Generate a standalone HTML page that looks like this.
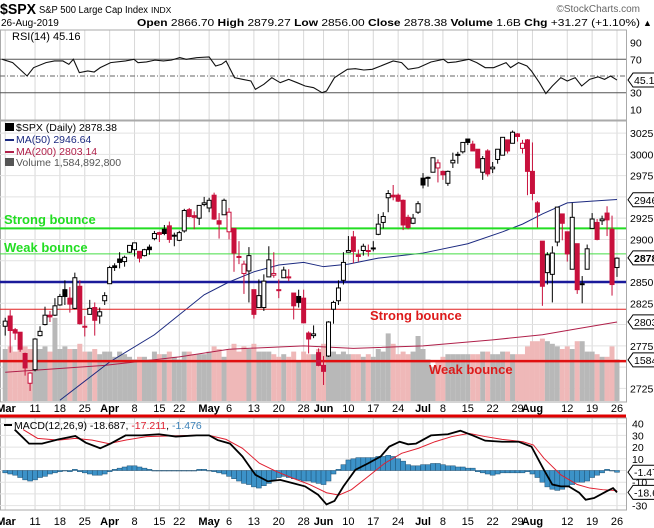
<!DOCTYPE html>
<html><head><meta charset="utf-8">
<style>
html,body{margin:0;padding:0;background:#fff;}
svg{display:block;font-family:"Liberation Sans",sans-serif;}
</style></head>
<body>
<svg id="chart" width="654" height="528" viewBox="0 0 654 528" xmlns="http://www.w3.org/2000/svg">
<rect x="0" y="0" width="654" height="528" fill="#fff"/>
<g>
<text x="0" y="14" font-size="15" font-weight="bold" fill="#000" textLength="36" lengthAdjust="spacingAndGlyphs">$SPX</text>
<text x="39" y="13" font-size="10" fill="#000" textLength="109" lengthAdjust="spacingAndGlyphs">S&amp;P 500 Large Cap Index</text>
<text x="151" y="13" font-size="8.5" fill="#000">INDX</text>
<text x="640" y="12" font-size="10" fill="#666" text-anchor="end">©StockCharts.com</text>
<text x="1" y="26" font-size="10" fill="#000">26-Aug-2019</text>
<text x="137" y="26" font-size="10.5" fill="#000" textLength="503" lengthAdjust="spacingAndGlyphs"><tspan font-weight="bold">Open</tspan> 2866.70 <tspan font-weight="bold">High</tspan> 2879.27 <tspan font-weight="bold">Low</tspan> 2856.00 <tspan font-weight="bold">Close</tspan> 2878.38 <tspan font-weight="bold">Volume</tspan> 1.6B <tspan font-weight="bold">Chg</tspan> +31.27 (+1.10%)</text>
<text x="643" y="26" font-size="9" fill="#000">▲</text>
</g>
<g id="grid"></g>
<g id="rsi"></g>
<g id="price"></g>
<g id="macd"></g>
</svg>
<script>
const opens=[2798,2810,2794,2791,2766,2731,2747,2787,2800,2811,2811,2823,2841,2831,2819,2845,2797,2812,2820,2810,2828,2848,2869,2877,2874,2885,2888,2886,2881,2891,2901,2908,2912,2916,2905,2899,2910,2935,2928,2925,2941,2937,2952,2922,2929,2909,2913,2880,2860,2863,2841,2820,2820,2856,2858,2841,2855,2856,2837,2833,2831,2790,2787,2767,2752,2763,2818,2828,2852,2885,2903,2882,2887,2887,2889,2906,2920,2949,2952,2952,2946,2926,2919,2932,2972,2973,2979,2984,2980,2966,2990,2999,3003,3018,3012,3006,2979,3004,2983,2994,2999,3017,3013,3024,3007,3017,2980,2943,2898,2861,2859,2897,2930,2909,2865,2895,2847,2865,2913,2920,2922,2931,2912,2867];
const highs=[2808,2817,2796,2791,2767,2744,2784,2798,2821,2816,2831,2836,2852,2844,2861,2852,2810,2829,2826,2820,2838,2869,2872,2885,2881,2893,2895,2886,2889,2894,2910,2909,2917,2921,2908,2910,2936,2937,2933,2940,2950,2949,2955,2931,2948,2937,2913,2898,2875,2891,2841,2853,2859,2892,2885,2853,2868,2865,2837,2841,2841,2792,2799,2772,2763,2804,2828,2852,2885,2904,2910,2888,2895,2894,2898,2930,2932,2958,2964,2954,2947,2929,2930,2945,2978,2974,2996,2994,2981,2981,3002,3003,3014,3018,3016,3006,2998,3006,2991,3005,3020,3017,3028,3025,3017,3018,3014,2945,2898,2885,2892,2938,2930,2909,2943,2895,2857,2894,2931,2924,2928,2939,2928,2879];
const lows=[2787,2767,2782,2768,2740,2722,2745,2786,2799,2803,2810,2822,2823,2814,2818,2800,2786,2812,2787,2801,2823,2848,2863,2866,2868,2884,2880,2873,2880,2882,2899,2897,2905,2896,2892,2898,2908,2926,2912,2917,2939,2932,2923,2901,2929,2900,2862,2871,2836,2826,2807,2820,2816,2856,2855,2831,2855,2851,2806,2820,2802,2766,2784,2751,2729,2762,2801,2823,2847,2885,2872,2874,2881,2880,2886,2905,2913,2932,2946,2944,2911,2912,2918,2930,2960,2962,2979,2967,2970,2963,2984,2989,3001,3011,3004,2984,2970,2974,2978,2989,2999,3001,3013,3015,3001,2952,2946,2914,2822,2847,2826,2892,2899,2874,2865,2836,2825,2865,2913,2899,2917,2904,2834,2856];
const closes=[2804,2793,2790,2771,2749,2743,2783,2792,2811,2809,2822,2833,2833,2824,2855,2801,2798,2819,2805,2815,2834,2867,2867,2873,2879,2893,2896,2878,2888,2888,2907,2906,2907,2900,2905,2908,2934,2927,2926,2940,2943,2946,2924,2918,2946,2932,2884,2879,2871,2881,2812,2834,2851,2876,2860,2840,2864,2856,2822,2826,2802,2783,2789,2752,2745,2803,2826,2843,2873,2887,2886,2880,2892,2887,2890,2918,2927,2954,2950,2945,2917,2914,2925,2942,2964,2973,2996,2990,2976,2980,2993,3000,3014,3014,3004,2984,2995,2977,2985,3006,3020,3004,3026,3021,3013,2980,2954,2932,2845,2882,2884,2938,2919,2883,2926,2841,2848,2889,2924,2900,2924,2923,2847,2878];
const volumes=[2.0,2.1,1.9,2.0,2.1,2.0,1.9,2.0,2.1,1.9,3.2,2.0,2.1,2.0,2.0,2.2,1.9,1.9,2.0,1.8,1.9,1.9,1.7,1.9,1.8,1.7,1.6,1.7,1.7,1.6,1.9,1.8,1.8,1.9,1.7,1.6,1.9,1.9,1.8,1.8,1.8,1.9,2.1,2.0,1.7,2.0,2.2,1.9,2.1,2.0,2.2,1.9,1.9,1.9,1.8,1.7,1.8,1.7,1.9,1.5,1.9,1.8,1.8,2.0,2.2,2.0,1.9,1.8,1.9,1.8,1.8,1.8,1.7,1.8,1.7,2.0,1.9,2.6,2.2,1.8,1.9,1.8,1.9,2.5,2.0,1.6,1.3,1.5,1.7,1.8,1.8,1.8,1.8,1.8,1.8,1.8,1.9,1.9,1.8,1.8,1.9,1.9,1.8,1.8,1.8,2.1,2.3,2.3,2.4,2.3,2.2,2.1,2.0,2.1,2.0,2.3,2.3,1.9,1.9,1.8,1.7,1.7,2.1,1.6];
const rsiDays=[-0.6,1.5,4.4,5.7,8.2,9.9,11.6,12.8,13.7,14.9,16.6,17.9,19.1,21.2,24.2,25.9,26.7,28.4,30.1,31.8,33.4,35.1,36.4,38.5,41,42.3,43.5,44.4,46.1,47.7,49.4,50.3,52,53.6,55.3,57,58.7,60.3,62,63.7,64.6,66.2,68.8,70.4,72.1,73.8,75.5,78,79.7,81,83.1,85.6,88.1,89,90.6,93.2,94.8,96.5,98.2,100.7,101.6,103.2,104.9,105.8,107.4,108.7,110,111.7,113,114.6,115.9,117.5,119.2,120.5,121.7,123];
const rsiVals=[70,66,50,60,66,68,68,64,70,54,56,54.8,60,66,68,70,66,66.8,69,68,69,72,70,72,72.8,62,64,68,48,46,44,34,40,48,42,46,42,38,36,30,32,48,58,58.8,57.2,58,62,68,66,58,60,66.8,70,66,66.8,70,66,60,60,66,60,66,62,56,42,29,38,48,44,48,38,46,49,46,50,45.16];
const macdDays=[1.9,4.8,7.4,10.7,14.1,16.2,19.1,21.2,24.2,27.5,30.9,34.3,38.5,41,42.7,45.2,47.7,50.3,52.8,55.3,57.8,60.3,62.9,64.6,66.2,68,70.4,73,75.5,77.2,79.3,81,82.6,85.6,89,91.5,94,96.5,99.9,103.2,105.8,108.3,110,111.7,113.3,115.4,116.7,118.4,120.9,122.2,123];
const macdVals=[35,23,23,26.6,29.5,23.8,19,23,30,30,31,29,30,30,26,23,12,-3.7,-9.3,-8,-10.8,-13.6,-20.7,-29,-26,-13.6,0.6,6.2,12,20.4,24.6,22.4,23,30,31,34,30,25.5,24.6,24.6,20.4,0.6,-12,-13.6,-13.6,-19,-25,-23.5,-17.8,-15,-18.7];
const signalDays=[3.6,6.5,10.7,14.1,17.5,20.8,24.2,28.4,32.6,37.6,41,44.4,47.7,51.1,54.5,57.8,61.2,64.6,67.1,69.6,73,76.3,79.7,83.1,86.4,89.8,93.2,96.5,99.9,104.1,106.2,108.3,111.7,115,117.5,120.1,123];
const signalVals=[35,27.5,26,27.5,26,23,26,29,29.5,30,30,26.6,19,6.2,-0.8,-6.5,-12,-19,-21,-16.4,-5,6.2,14.7,19,24.6,29,31.7,29,26.6,24.6,21.8,10.5,-3.7,-12,-15,-16.4,-17.2];
const histVals=[-2,-3,-4,-6,-8,-9,-8,-6,-5,-3,-2,-1,0,-1,1,-1,-2,-3,-4,-4,-3,-1,1,2,3,4,4,3,2,1,0,0,0,0,0,0,0,0,0,1,1,0,-1,-2,-3,-5,-7,-9,-11,-12,-14,-15,-13,-11,-8,-6,-5,-6,-7,-8,-9,-9,-10,-11,-12,-9,-3,1,5,9,10,11,11,11,11,12,12,13,12,10,8,5,4,4,5,5,6,6,5,4,4,3,3,2,2,-1,-2,-3,-4,-3,-2,-2,-2,-2,-2,-1,-3,-6,-10,-14,-16,-17,-16,-14,-12,-10,-10,-9,-6,-4,-2,1,0,-1.5];
const ma50Days=[11,21,30,40,45,50,55,60,64,69,75,84,93,100,104,108,113,118,123];
const ma50Vals=[2711,2756,2788,2835,2850,2862,2870,2873,2868,2871,2878,2884,2895,2909,2918,2930,2943,2945,2947];
const ma200Days=[0,20,35,45,60,70,84,98,108,115,123];
const ma200Vals=[2744,2752,2762,2771,2775,2772,2775,2782,2788,2795,2803];
const dateLabels=["Mar","11","18","25","Apr","8","15","22","May","6","13","20","28","Jun","10","17","24","Jul","8","15","22","29","Aug","12","19","26"];
const dateIdx=[0,6,11,16,21,26,31,35,41,45,50,55,60,64,69,74,79,84,88,93,98,103,106,113,118,123];
const priceTicks=[3025,3000,2975,2925,2900,2850,2825,2775,2725];
const rsiTicks=[90,70,30,10];
const macdTicks=[40,30,20,10,-10,-30];

const NS="http://www.w3.org/2000/svg";
const PR=626;
const X=i=>5.2+i*4.974;
const PY=p=>282-(p-2850)*0.851;
const RY=v=>76-(v-50)*0.835;
const MY=v=>470.5-v*1.17;
const VY=v=>401-v*26;
function mk(tag,attrs,parent,txt){const e=document.createElementNS(NS,tag);for(const k in attrs)e.setAttribute(k,attrs[k]);if(txt!==undefined)e.textContent=txt;parent.appendChild(e);return e;}
const grid=document.getElementById('grid');
const rsiG=document.getElementById('rsi');
const priceG=document.getElementById('price');
const macdG=document.getElementById('macd');

const panels=[[30,120],[121,402],[418,510]];
panels.forEach(([t,b])=>{
  dateIdx.forEach(i=>{const l=mk('line',{x1:X(i),x2:X(i),y1:t,y2:b,stroke:'#d8d8d8','stroke-width':1},grid);
  
  });
  const r=mk('rect',{x:0.5,y:t,width:PR,height:b-t,fill:'none',stroke:'#aaa','stroke-width':1},grid);
  
  
});
priceTicks.concat([2950,2875,2800,2750]).forEach(p=>{const l=mk('line',{x1:0,x2:PR,y1:PY(p),y2:PY(p),stroke:'#e2e2e2','stroke-width':1},grid);

});
[0,20,10,-10,-20,-30,30,40].forEach(v=>{const l=mk('line',{x1:0,x2:PR,y1:MY(v),y2:MY(v),stroke:'#e2e2e2','stroke-width':1},grid);

});

[408,521].forEach(y=>{dateLabels.forEach((s,k)=>{const bold=isNaN(+s);
 let x=X(dateIdx[k]); if(k===0)x=6;
 const t=mk('text',{x:x,y:y+4,'font-size':11,'font-weight':bold?'bold':'normal','text-anchor':'middle',fill:'#000'},grid,s);
 
 });});

[[70,'#555',''],[30,'#555',''],[50,'#666','5,2,1,2']].forEach(([v,c,d])=>{const l=mk('line',{x1:0,x2:PR,y1:RY(v),y2:RY(v),stroke:c,'stroke-width':1,'stroke-dasharray':d},rsiG);

});
const rsiLine=mk('polyline',{points:rsiDays.map((d,k)=>X(d)+','+RY(rsiVals[k])).join(' '),fill:'none',stroke:'#111','stroke-width':1.1},rsiG);


rsiTicks.forEach(v=>{const t=mk('text',{x:630,y:RY(v)+4,'font-size':10.5,fill:'#000'},rsiG,v);

});
const rt=mk('text',{x:12,y:40,'font-size':11,fill:'#000'},rsiG,'RSI(14) 45.16');



volumes.forEach((v,i)=>{const up=i===0||closes[i]>=closes[i-1];
 const r=mk('rect',{x:X(i)-2.5,y:VY(v),width:5,height:401-VY(v),fill:up?'#b8b8b8':'#efb8b8'},priceG);
 
 });

const ma200=mk('polyline',{points:ma200Days.map((d,k)=>X(d)+','+PY(ma200Vals[k])).join(' '),fill:'none',stroke:'#b0204a','stroke-width':1},priceG);


const ma50=mk('polyline',{points:ma50Days.map((d,k)=>X(d)+','+PY(ma50Vals[k])).join(' '),fill:'none',stroke:'#1c2a80','stroke-width':1},priceG);



[[PY(2913),'#22dd22',2,'strong-bounce-green-line'],[PY(2883),'#44dd44',1,'weak-bounce-green-line'],[282,'#1a1a9a',2.5,'support-blue-line'],[PY(2818),'#e02020',1,'strong-bounce-red-line'],[PY(2757),'#e01010',2.5,'weak-bounce-red-line']].forEach(([y,c,w,n])=>{
 const l=mk('line',{x1:0,x2:PR,y1:y,y2:y,stroke:c,'stroke-width':w},priceG);
 
 });

closes.forEach((c,i)=>{const o=opens[i];const down=i>0&&c<closes[i-1];
 const col=down?'#c8103c':'#000';const x=X(i);
 const w=mk('line',{x1:x,x2:x,y1:PY(highs[i]),y2:PY(lows[i]),stroke:col,'stroke-width':1},priceG);
 
 
 const top=PY(Math.max(o,c)),bot=PY(Math.min(o,c));
 const b=mk('rect',{x:x-2,y:top,width:4,height:Math.max(1,bot-top),fill:c<o?col:'#fff',stroke:col,'stroke-width':1},priceG);
 
 });

[[4,224,'#22dd22','Strong bounce'],[4,252,'#22dd22','Weak bounce'],[370,320,'#dd1a1a','Strong bounce'],[429,374,'#dd1a1a','Weak bounce']].forEach(([x,y,c,s])=>{
 const t=mk('text',{x:x,y:y,'font-size':13,'font-weight':'bold',fill:c},priceG,s);
 
 });

[[131,'#000','$SPX (Daily) 2878.38'],[143,'#1c2a80','MA(50) 2946.64'],[155,'#b0204a','MA(200) 2803.14'],[166,'#555','Volume 1,584,892,800']].forEach(([y,c,s],k)=>{
 const t=mk('text',{x:16,y:y,'font-size':10.5,fill:c},priceG,s);
 
 
 const m=mk('rect',{x:5,y:y-(k===0||k===3?8:4),width:9,height:k===0||k===3?8:2,fill:c},priceG);
 
 });

priceTicks.forEach(p=>{const t=mk('text',{x:630,y:PY(p)+4,'font-size':10.5,fill:'#000'},priceG,p);

});
function tag(y,s,bold,parent,name){
 const p=mk('path',{d:`M628,${y} l5,-7 h30 v14 h-30 z`,fill:'#fff',stroke:'#000','stroke-width':1},parent);
 
 
 const t=mk('text',{x:634,y:y+4,'font-size':10.5,'font-weight':bold?'bold':'normal',fill:'#000'},parent,s);
 
 }
tag(PY(2946.64),'2946',false,priceG,'ma50-value-tag');
tag(PY(2878.38),'2878.38',true,priceG,'close-value-tag');
tag(PY(2803.14),'2803',false,priceG,'ma200-value-tag');
tag(VY(1.58),'1584',false,priceG,'volume-value-tag');
tag(RY(45.16),'45.16',false,rsiG,'rsi-value-tag');

const sep=mk('line',{x1:0,x2:PR,y1:416,y2:416,stroke:'#e00000','stroke-width':3},macdG);



histVals.forEach((h,i)=>{const y0=MY(0),y1=MY(h);
 const r=mk('rect',{x:X(i)-2.5,y:Math.min(y0,y1),width:5,height:Math.max(0.5,Math.abs(y1-y0)),fill:'#3c92c8',stroke:'#1d4f72','stroke-width':0.5},macdG);
 
 });
const sig=mk('polyline',{points:signalDays.map((d,k)=>X(d)+','+MY(signalVals[k])).join(' '),fill:'none',stroke:'#e02030','stroke-width':1},macdG);


const ml=mk('polyline',{points:macdDays.map((d,k)=>X(d)+','+MY(macdVals[k])).join(' '),fill:'none',stroke:'#000','stroke-width':1.8},macdG);


macdTicks.forEach(v=>{const t=mk('text',{x:632,y:MY(v)+4,'font-size':10.5,fill:'#000'},macdG,v);

});
tag(MY(-1.476),'-1.476',false,macdG,'histogram-value-tag');
tag(MY(-18.687),'-18.687',false,macdG,'macd-value-tag');
const mt=mk('text',{x:14,y:429,'font-size':10.5,fill:'#000'},macdG);


mt.innerHTML='<tspan>MACD(12,26,9) -18.687, </tspan><tspan fill="#e02030">-17.211</tspan><tspan>, </tspan><tspan fill="#3c82b8">-1.476</tspan>';
const mm=mk('rect',{x:4,y:424,width:8,height:2,fill:'#000'},macdG);


</script>
</body></html>
